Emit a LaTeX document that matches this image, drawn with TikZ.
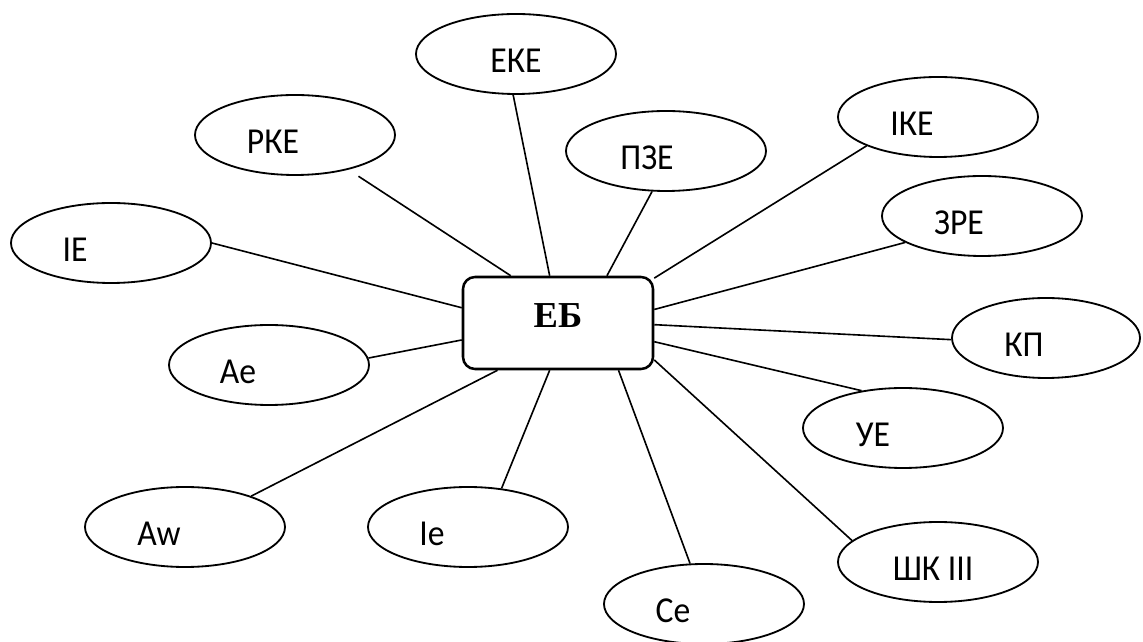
\documentclass[tikz,border=0pt]{standalone}
\usepackage{fontspec}
\setmainfont{Carlito}[FakeStretch=0.92]
\newfontfamily\hubfont{Liberation Serif}
\usetikzlibrary{shapes.geometric}
\usetikzlibrary{positioning}
\tikzset{
  bubble/.style={draw,ellipse,line width=1.3pt,minimum width=5cm,
    minimum height=2cm,inner sep=0pt},
  hub/.style={draw,rounded corners=0.3cm,line width=1.8pt,
    minimum width=4.75cm,minimum height=2.3cm,text depth=0.35cm,
    font=\hubfont\bfseries\fontsize{26}{31}\selectfont},
  link/.style={line width=1.15pt}
}
\def\Bubble(#1)#2#3#4{%
  \node[bubble,label={[xshift=#4,yshift=-0.17cm,
    font=\fontsize{26}{31}\selectfont]center:#3}] (#2) at (#1) {};
}

\begin{document}
\begin{tikzpicture}
  \useasboundingbox (0,0) rectangle (28.575,16.05);
  % The centre box
  \node[hub] (eb) at (13.95,7.975) {ЕБ};
  % Place the ellipses round it
  \Bubble(12.9,14.7){eke}{ЕКЕ}{0cm}
  \Bubble(7.375,12.675){rke}{РКЕ}{-0.55cm}
  \Bubble(2.775,9.975){ie}{ІЕ}{-0.9cm}
  \Bubble(16.65,12.275){pze}{ПЗЕ}{-0.475cm}
  \Bubble(23.45,13.125){ike}{ІКЕ}{-0.65cm}
  \Bubble(24.55,10.65){zre}{ЗРЕ}{-0.575cm}
  \Bubble(6.725,6.925){ae}{Ае}{-0.775cm}
  \Bubble(4.625,2.875){aw}{Aw}{-0.65cm}
  \Bubble(11.7,2.875){iee}{Іе}{-0.9cm}
  \Bubble(17.6,0.95){ce}{Се}{-0.775cm}
  \Bubble(22.575,5.35){ue}{УЕ}{-0.75cm}
  \Bubble(23.45,2.0){shk}{ШК III}{-0.125cm}
  \node[bubble,minimum width=4.7cm,
    label={[xshift=-0.55cm,yshift=-0.17cm,
    font=\fontsize{26}{31}\selectfont]center:КП}] (kp) at (26.15,7.6) {};
  % Connect the ellipses to the box
  \draw[link,shorten >=0.3cm] (eb.135) -- (rke.-33);
  \draw[link] (eb.100) -- (eke.266);
  \draw[link] (eb.44) -- (pze.251);
  \draw[link] (eb.25) -- (ike.202);
  \draw[link] (eb.171) -- (ie.0);
  \draw[link] (eb.190.6) -- (ae.4);
  \draw[link] (eb.218.9) -- (aw.25);
  \draw[link] (eb.260) -- (iee.49.6);
  \draw[link] (eb.-38.4) -- (ce.109);
  \draw[link] (eb.8.9) -- (zre.199.6);
  \draw[link] (eb.-1.2) -- (kp.181.8);
  \draw[link] (eb.-11.1) -- (ue.138.4);
  \draw[link] (eb.-21) -- (shk.166.8);
\end{tikzpicture}
\end{document}
